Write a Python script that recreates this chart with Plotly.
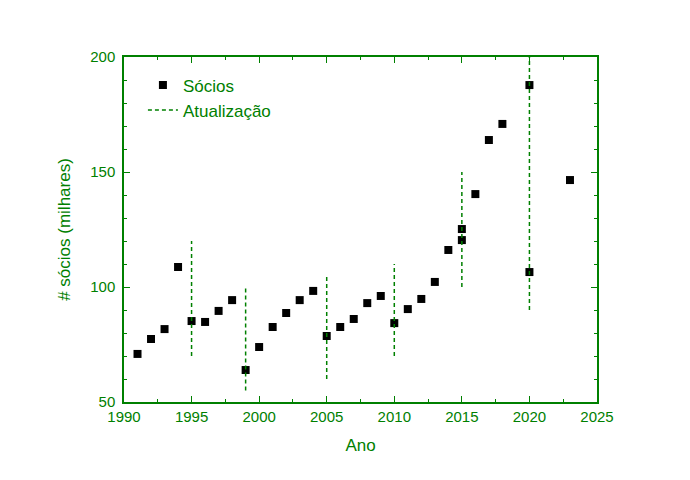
import plotly.graph_objects as go

GREEN = "#008000"

# dados: sócios (milhares) por ano
anos = [1991, 1992, 1993, 1994, 1995, 1996, 1997, 1998, 1999, 2000, 2001, 2002, 2003,
        2004, 2005, 2006, 2007, 2008, 2009, 2010, 2011, 2012, 2013, 2014, 2015, 2015,
        2016, 2017, 2018, 2020, 2020, 2023]
socios = [70.9, 77.4, 81.7, 108.7, 85.2, 84.8, 89.6, 94.3, 63.9, 73.9, 82.6, 88.7, 94.3,
          98.3, 78.7, 82.6, 86.1, 93.0, 96.1, 84.3, 90.4, 94.8, 102.2, 116.1, 120.4, 125.2,
          140.4, 163.9, 170.9, 187.8, 106.5, 146.5]

# anos de atualização e extensão das linhas tracejadas
atual_anos = [1995, 1999, 2005, 2010, 2015, 2020]
atual_min = [70, 55, 60, 70, 100, 90]
atual_max = [120, 100, 105, 110, 150, 200]

xs, ys = [], []
for a, lo, hi in zip(atual_anos, atual_min, atual_max):
    xs += [a, a, None]
    ys += [lo, hi, None]

fig = go.Figure()
fig.add_trace(go.Scatter(x=anos, y=socios, mode="markers", name="Sócios",
                         marker=dict(symbol="square", size=8, color="black")))
fig.add_trace(go.Scatter(x=xs, y=ys, mode="lines", name="Atualização",
                         line=dict(color=GREEN, dash="4px,3px", width=1.5)))

axis = dict(showgrid=False, zeroline=False, showline=True, linecolor=GREEN, linewidth=1.5,
            mirror="ticks", ticks="inside", ticklen=6, tickcolor=GREEN,
            tickfont=dict(color=GREEN, size=15, family="Liberation Sans"),
            title_font=dict(color=GREEN, size=17, family="Liberation Sans"),
            minor=dict(ticks="inside", ticklen=3, tickcolor=GREEN))
fig.update_xaxes(axis, range=[1990, 2025], dtick=5, title_text="Ano", minor_dtick=2.5)
fig.update_yaxes(axis, range=[50, 200], dtick=50, title_text="# sócios (milhares)",
                 minor_dtick=10, ticklabelstandoff=4)

fig.update_layout(width=690, height=480, plot_bgcolor="white", paper_bgcolor="white",
                  margin=dict(l=116, r=101, t=49, b=86),
                  legend=dict(x=0.04, y=0.97, bgcolor="rgba(0,0,0,0)",
                              font=dict(color=GREEN, size=17, family="Liberation Sans")))
fig.write_html("out.html")
